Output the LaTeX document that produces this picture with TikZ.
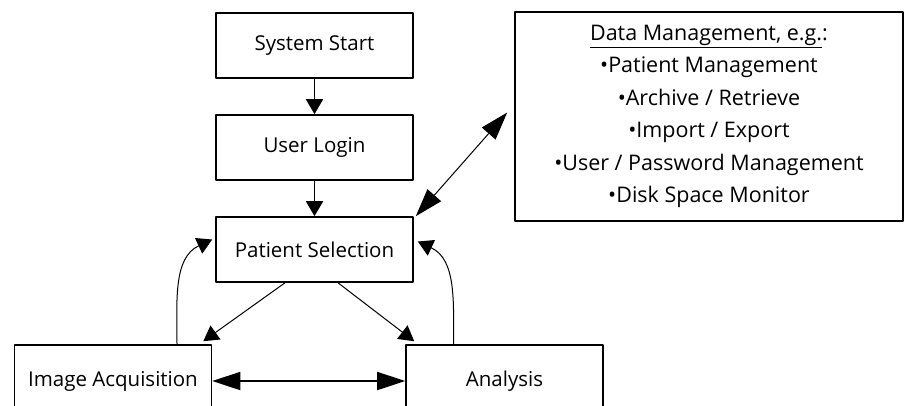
\documentclass[tikz,border=0pt]{standalone}
\usepackage{fontspec}
\setmainfont{Open Sans}
\usetikzlibrary{arrows.meta}

\begin{document}
\begin{tikzpicture}[x=1pt, y=-1pt, line cap=round, line join=round,
  box/.style={draw, line width=1.6pt, minimum width=197pt, minimum height=65pt, inner sep=0pt, font=\fontsize{20.5}{24}\selectfont},
  short/.tip={Triangle[length=15pt,width=17pt]},
  long/.tip={Triangle[length=28pt,width=18pt]},
  flow/.style={line width=1.8pt, -short},
  link/.style={line width=1pt, -short}]

\useasboundingbox (0,0) rectangle (904,405);

% -----------------------
% Parameters
% -----------------------
\def\cx{314.5}   % centre line of the main column
\def\dy{102}     % step between the column boxes

% -----------------------
% Main column
% -----------------------
\node[box] (start) at (\cx,45.5) {System Start};
\node[box] (login) at (\cx,45.5+\dy) {User Login};
\node[box] (sel)   at (\cx,45.5+2*\dy) {Patient Selection};

\draw[flow] (start) -- (login);
\draw[flow] (login) -- (sel);

% -----------------------
% Work steps
% -----------------------
\node[box, minimum height=72pt] (acq)  at (113,381) {Image Acquisition};
\node[box, minimum height=72pt] (anal) at (504.5,381) {Analysis};

\draw[link] ([xshift=-29.5pt]sel.south) -- ([xshift=-9pt,yshift=3pt]acq.north east);
\draw[link] ([xshift=23.5pt]sel.south) -- ([xshift=9pt,yshift=3pt]anal.north west);
\draw[flow, long-long] (acq) -- (anal);

% back to patient selection
\draw[link] ([xshift=64pt]acq.north) to[out=90, in=205] ([xshift=-3pt,yshift=10pt]sel.west);
\draw[link] ([xshift=-51pt]anal.north) to[out=90, in=-25] ([xshift=4pt,yshift=8pt]sel.east);

% -----------------------
% Data management
% -----------------------
\node[box, minimum width=388pt, minimum height=209pt, align=center,
      font=\fontsize{21.5}{32.5}\selectfont] (data) at (709,116.5)
  {\underline{Data Management, e.g.}:\\
   \textbullet Patient Management\\
   \textbullet Archive / Retrieve\\
   \textbullet Import / Export\\
   \textbullet User / Password Management\\
   \textbullet Disk Space Monitor};

\draw[link, long-long] ([xshift=2pt]sel.north east) -- ([xshift=-7pt,yshift=4pt]data.west);

\end{tikzpicture}
\end{document}
